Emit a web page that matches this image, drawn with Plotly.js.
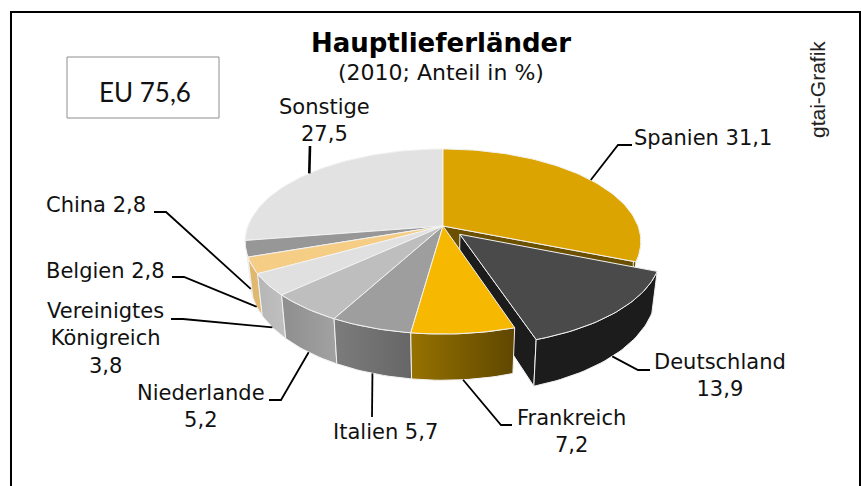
<!DOCTYPE html>
<html><head><meta charset="utf-8">
<script src="https://cdn.plot.ly/plotly-3.0.1.min.js"></script>
<style>html,body{margin:0;padding:0;background:#fff}#c{width:861px;height:486px}</style>
</head><body><div id="c"></div>
<script>
// --- data (clockwise from 12 o'clock) ---
const countries = ['Spanien','Deutschland','Frankreich','Italien','Niederlande','Vereinigtes Königreich','Belgien','China','Sonstige'];
const shares    = [31.1, 13.9, 7.2, 5.7, 5.2, 3.8, 2.8, 2.8, 27.5];
const explodedSlice = 'Deutschland';
const titleText = 'Hauptlieferländer';
const subtitleText = '(2010; Anteil in %)';
const euText = 'EU 75,6';
const creditText = 'gtai-Grafik';

// --- styles ---
const topColors  = ['#dca400','#4a4a4a','#f6b800','#9e9e9e','#bebebe','#e0e0e0','#f6cd85','#979797','#e2e2e2'];
const wallLeft   = ['#6b5000','#1c1c1c','#967200','#7c7c7c','#8e8e8e','#b6b6b6','#dfb66c','#8a8a8a','#cccccc'];
const wallRight  = ['#6b5000','#1c1c1c','#5f4700','#666666','#a2a2a2','#c0c0c0','#e2ba72','#8a8a8a','#cccccc'];
const edgeColor = '#f2f2f2';

// --- projection of the tilted disc (pixel-like plot coordinates) ---
const cx=443, cy=226, R=195, Ry=89.9, persp=0.1676, depth=38.5, bottomScale=0.975, explode=0.125;
const rad=d=>d*Math.PI/180;
function project(r,deg,mid,bottom){
  let u=r*Math.sin(rad(deg)), v=-r*Math.cos(rad(deg));
  if(mid!==null){u+=explode*Math.sin(rad(mid)); v-=explode*Math.cos(rad(mid));}
  const f=1/(1-persp*v);
  return [cx+R*u*f*(bottom?bottomScale:1), cy+Ry*v*f+(bottom?depth*f:0)];
}
function poly(points,fill,gradient,lineColor){
  const t={type:'scatter',mode:'lines',x:points.map(p=>p[0]),y:points.map(p=>p[1]),
    fill:'toself',fillcolor:fill,hoverinfo:'skip',showlegend:false,
    line:{color:lineColor||edgeColor,width:1}};
  if(gradient) t.fillgradient={type:'horizontal',colorscale:[[0,gradient[0]],[1,gradient[1]]]};
  return t;
}
function arc(a,b,mid,bottom){
  const out=[],n=Math.max(2,Math.ceil(Math.abs(b-a)/1.5));
  for(let i=0;i<=n;i++) out.push(project(1,a+(b-a)*i/n,mid,bottom));
  return out;
}

// --- angles from the shares ---
const slices=[]; let cum=0;
const total=shares.reduce((a,b)=>a+b,0);
shares.forEach((s,i)=>{const a=cum/total*360; cum+=s; const b=cum/total*360;
  slices.push({i,a,b,midAngle:(a+b)/2,mid:countries[i]===explodedSlice?(a+b)/2:null});});

const traces=[];
function drawSlice(sl,wallFrom,wallTo,cutAngle){
  const {i,a,b,mid}=sl;
  if(cutAngle!==undefined){
    const c0=project(0,cutAngle,mid,false), c1=project(1,cutAngle,mid,false),
          c2=project(1,cutAngle,mid,true), c3=project(0,cutAngle,mid,true);
    traces.push(poly([c0,c1,c2,c3,c0],wallLeft[i],null));
  }
  const wa=wallFrom===undefined?a:wallFrom, wb=wallTo===undefined?b:wallTo;
  const up=arc(wa,wb,mid,false), dn=arc(wa,wb,mid,true).reverse();
  const w=up.concat(dn); w.push(up[0]);
  traces.push(poly(w,wallLeft[i],[wallLeft[i],wallRight[i]]));
  const apex=project(0,a,mid,false);
  const top=[apex].concat(arc(a,b,mid,false)); top.push(apex);
  traces.push(poly(top,topColors[i],null));
}
// painter's order: back slices, exploded slice, then remaining front slices
drawSlice(slices[8],262,272);
drawSlice(slices[0],90,slices[0].b,slices[0].b);
drawSlice(slices[1],undefined,undefined,slices[1].b);
[7,6,5,4,3,2].forEach(k=>drawSlice(slices[k]));

// --- leaders: start on the slice edge, then routed to the label ---
const leaderRoutes={
  'Spanien':{bottom:false,via:[[618,145],[632,145]]},
  'Deutschland':{bottom:true,via:[[638,370],[650,370]]},
  'Frankreich':{bottom:true,via:[[501,425],[512,425]]},
  'Italien':{bottom:true,via:[[372,417]]},
  'Niederlande':{bottom:true,via:[[281,400],[269,400]]},
  'Vereinigtes Königreich':{bottom:true,via:[[183,319],[171,319]]},
  'Belgien':{bottom:true,via:[[184,277],[172,277]]},
  'China':{bottom:true,via:[[166,212],[154,212]]},
  'Sonstige':{bottom:false,via:[[310,146]],width:2.6}
};
slices.forEach(sl=>{
  const route=leaderRoutes[countries[sl.i]];
  const pts=[project(1,sl.midAngle,sl.mid,route.bottom)].concat(route.via);
  traces.push({type:'scatter',mode:'lines',x:pts.map(p=>p[0]),y:pts.map(p=>p[1]),hoverinfo:'skip',showlegend:false,
    line:{color:'#000',width:route.width||1.8}});
});

// --- labels ---
const fmt=v=>v.toFixed(1).replace('.',',');
const labelPlacement={
  'Spanien':{x:632,y:138,anchor:'left',sep:' '},
  'Deutschland':{x:720,y:375,sep:'<br>'},
  'Frankreich':{x:571,y:431,sep:'<br>'},
  'Italien':{x:385,y:432,sep:' '},
  'Niederlande':{x:201,y:406,sep:'<br>'},
  'Vereinigtes Königreich':{x:105,y:338,sep:'<br>',nameBreak:true},
  'Belgien':{x:105,y:271,sep:' '},
  'China':{x:96,y:205,sep:' '},
  'Sonstige':{x:324,y:120,sep:'<br>'}
};
const labelFont={family:'DejaVu Sans',size:21,color:'#111'};
const annotations=countries.map((c,i)=>{
  const p=labelPlacement[c];
  const name=p.nameBreak?c.replace(' ','<br>'):c;
  return {xref:'x',yref:'y',x:p.x,y:p.y,xanchor:p.anchor||'center',yanchor:'middle',showarrow:false,
    text:name+p.sep+fmt(shares[i]),font:labelFont};
});
annotations.push({xref:'x',yref:'y',x:441,y:72,xanchor:'center',yanchor:'middle',showarrow:false,text:subtitleText,
  font:{family:'DejaVu Sans',size:22,color:'#111'}});
annotations.push({xref:'x',yref:'y',x:97,y:92,xanchor:'left',yanchor:'middle',showarrow:false,text:euText,
  font:{family:'Lato',size:26,color:'#111'}});
annotations.push({xref:'x',yref:'y',x:817,y:90,xanchor:'center',yanchor:'middle',textangle:-90,showarrow:false,text:creditText,
  font:{family:'Liberation Sans',size:21,color:'#222'}});

const layout={
  width:861,height:486,margin:{l:0,r:0,t:0,b:0},autosize:false,
  paper_bgcolor:'#fff',plot_bgcolor:'#fff',showlegend:false,
  title:{text:'<b>'+titleText+'</b>',x:441/861,xanchor:'center',xref:'paper',y:1-43/486,yanchor:'middle',yref:'container',
    font:{family:'DejaVu Sans',size:26,color:'#000'}},
  xaxis:{range:[0,861],visible:false,fixedrange:true},
  yaxis:{range:[486,0],visible:false,fixedrange:true},
  annotations,
  shapes:[
    {type:'rect',xref:'x',yref:'y',x0:11,y0:12,x1:860,y1:510,line:{color:'#000',width:2},layer:'below'},
    {type:'rect',xref:'x',yref:'y',x0:67,y0:57,x1:219,y1:118,line:{color:'#8e8e8e',width:1},layer:'below'}
  ]
};
Plotly.newPlot('c',traces,layout,{displayModeBar:false,staticPlot:true});
</script></body></html>
